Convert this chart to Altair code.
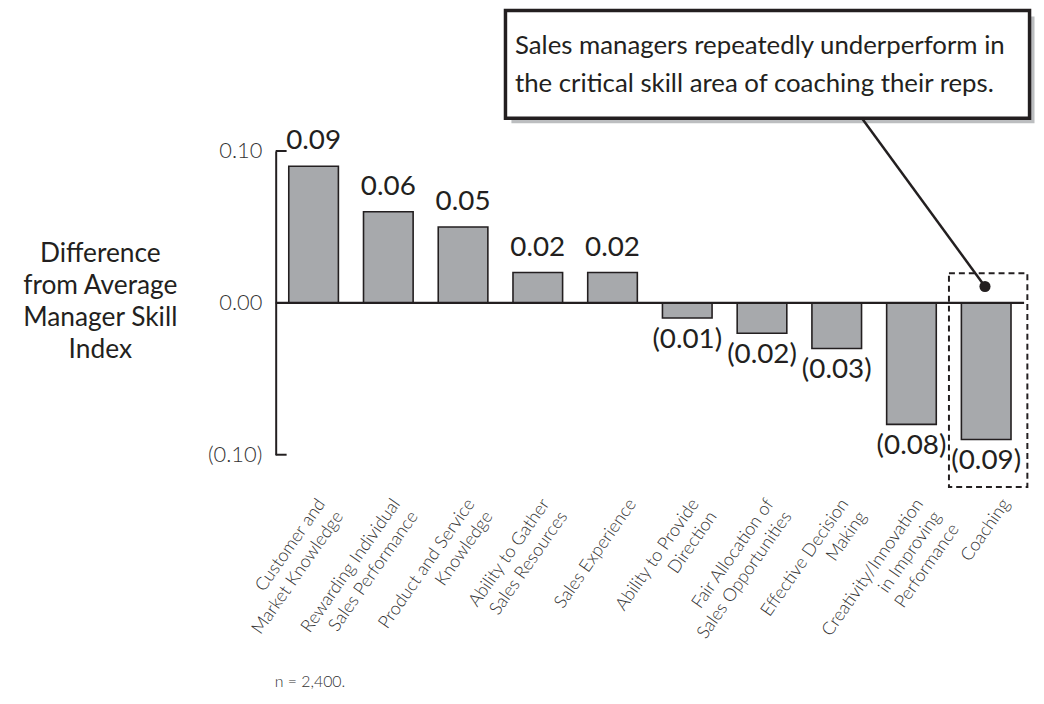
import altair as alt
import pandas as pd

categories = [
    "Customer and\nMarket Knowledge",
    "Rewarding Individual\nSales Performance",
    "Product and Service\nKnowledge",
    "Ability to Gather\nSales Resources",
    "Sales Experience",
    "Ability to Provide\nDirection",
    "Fair Allocation of\nSales Opportunities",
    "Effective Decision\nMaking",
    "Creativity/Innovation\nin Improving\nPerformance",
    "Coaching",
]
values = [0.09, 0.06, 0.05, 0.02, 0.02, -0.01, -0.02, -0.03, -0.08, -0.09]
y_ticks = [-0.1, 0.0, 0.1]
end_ticks = [-0.1, 0.1]
callout_lines = [
    "Sales managers repeatedly underperform in",
    "the critical skill area of coaching their reps.",
]
y_title_lines = ["Difference", "from Average", "Manager Skill", "Index"]
footnote = "n = 2,400."

W, H = 754, 306
FONT = "Lato"
INK = "#231F20"
SOFT = "#333333"
BAR = "#A7A9AC"
SHADOW = "#BCBEC0"

df = pd.DataFrame({"skill": categories, "value": values})
df["label"] = [f"({abs(v):.2f})" if v < 0 else f"{v:.2f}" for v in values]

x = alt.X(
    "skill:N",
    sort=categories,
    scale=alt.Scale(paddingInner=0.336, paddingOuter=0.175),
    axis=alt.Axis(
        title=None,
        labelAngle=-55,
        labelAlign="right",
        labelBaseline="top",
        labelExpr="split(datum.label, '\\n')",
        labelFont=FONT,
        labelFontWeight=300,
        labelFontSize=18,
        labelLineHeight=22,
        labelPadding=41,
        labelOffset={
            "condition": {"test": "indexof(datum.value, '\\n') < 0", "value": 13},
            "value": 1,
        },
        labelColor=SOFT,
        domain=False,
        ticks=False,
        grid=False,
    ),
)
y = alt.Y(
    "value:Q",
    scale=alt.Scale(domain=[-0.1, 0.1], nice=False, zero=False),
    axis=alt.Axis(
        title=None,
        values=y_ticks,
        labelExpr="datum.value < 0 ? '(' + format(-datum.value, '.2f') + ')' : format(datum.value, '.2f')",
        ticks=False,
        domain=True,
        domainColor=INK,
        domainWidth=2,
        grid=False,
        labelFont=FONT,
        labelFontWeight=300,
        labelFontSize=22,
        labelPadding=14,
        labelColor=SOFT,
    ),
)

base = alt.Chart(df)
bars = base.mark_bar(fill=BAR, stroke=INK, strokeWidth=1.6).encode(x=x, y=y)
pos_labels = base.transform_filter("datum.value > 0").mark_text(
    baseline="alphabetic", dy=-17, font=FONT, fontSize=28, color=INK
).encode(x=x, y=y, text="label:N")
neg_labels = base.transform_filter("datum.value < 0").mark_text(
    baseline="top", dy=8, font=FONT, fontSize=28, color=INK
).encode(x=x, y=y, text="label:N")

zero_rule = alt.Chart(pd.DataFrame({"value": [0.0]})).mark_rule(
    color=INK, strokeWidth=2.5
).encode(y=y)
end_rules = alt.Chart(pd.DataFrame({"value": end_ticks})).mark_rule(
    color=INK, strokeWidth=2
).encode(y=y, x=alt.value(0), x2=alt.value(11))

one = pd.DataFrame({"a": [0]})

def rect(x0, x1, y0, y1, **kw):
    return alt.Chart(one).mark_rect(**kw).encode(
        x=alt.value(x0), x2=alt.value(x1), y=alt.value(y0), y2=alt.value(y1)
    )

box_l, box_r, box_t, box_b = 231.5, 759.5, -141.5, -33.0
shadow = rect(box_l + 6, box_r + 5, box_t + 6, box_b + 5, fill=SHADOW)
box = rect(box_l, box_r, box_t, box_b, fill="white", stroke=INK, strokeWidth=3.5)

callout = [
    alt.Chart(one).mark_text(
        align="left", baseline="alphabetic", font=FONT, fontSize=26, color=INK
    ).encode(x=alt.value(241), y=alt.value(-97.5 + i * 37.6), text=alt.value(t))
    for i, t in enumerate(callout_lines)
]

connector = alt.Chart(one).mark_rule(color=INK, strokeWidth=2.5).encode(
    x=alt.value(590.6), y=alt.value(-33.0), x2=alt.value(714.6), y2=alt.value(136.5)
)
dot = alt.Chart(one).mark_circle(color=INK, opacity=1, size=125).encode(
    x=alt.value(714.6), y=alt.value(136.5)
)
dashed = rect(678.3, 757.3, 123.2, 338.5, fill=None, stroke=INK, strokeWidth=2,
              strokeDash=[6, 4])

ytitle = [
    alt.Chart(one).mark_text(
        align="center", baseline="alphabetic", font=FONT, fontSize=26.5, color=INK
    ).encode(x=alt.value(-176.7), y=alt.value(111.5 + i * 32.2), text=alt.value(t))
    for i, t in enumerate(y_title_lines)
]

foot = alt.Chart(one).mark_text(
    align="left", baseline="alphabetic", font=FONT, fontWeight=300, fontSize=16, color=SOFT
).encode(x=alt.value(-1), y=alt.value(540.5), text=alt.value(footnote))

chart = alt.layer(
    bars, zero_rule, end_rules, pos_labels, neg_labels, dashed,
    shadow, box, *callout, connector, dot, *ytitle, foot
).properties(
    width=W,
    height=H,
    background="white",
    padding={"left": 269.7, "top": 141.5, "right": 12, "bottom": 240},
    autosize=alt.AutoSizeParams(type="none"),
).configure_view(stroke="transparent", strokeWidth=0)

chart.save("out.html", embed_options={"renderer": "svg", "actions": False})
